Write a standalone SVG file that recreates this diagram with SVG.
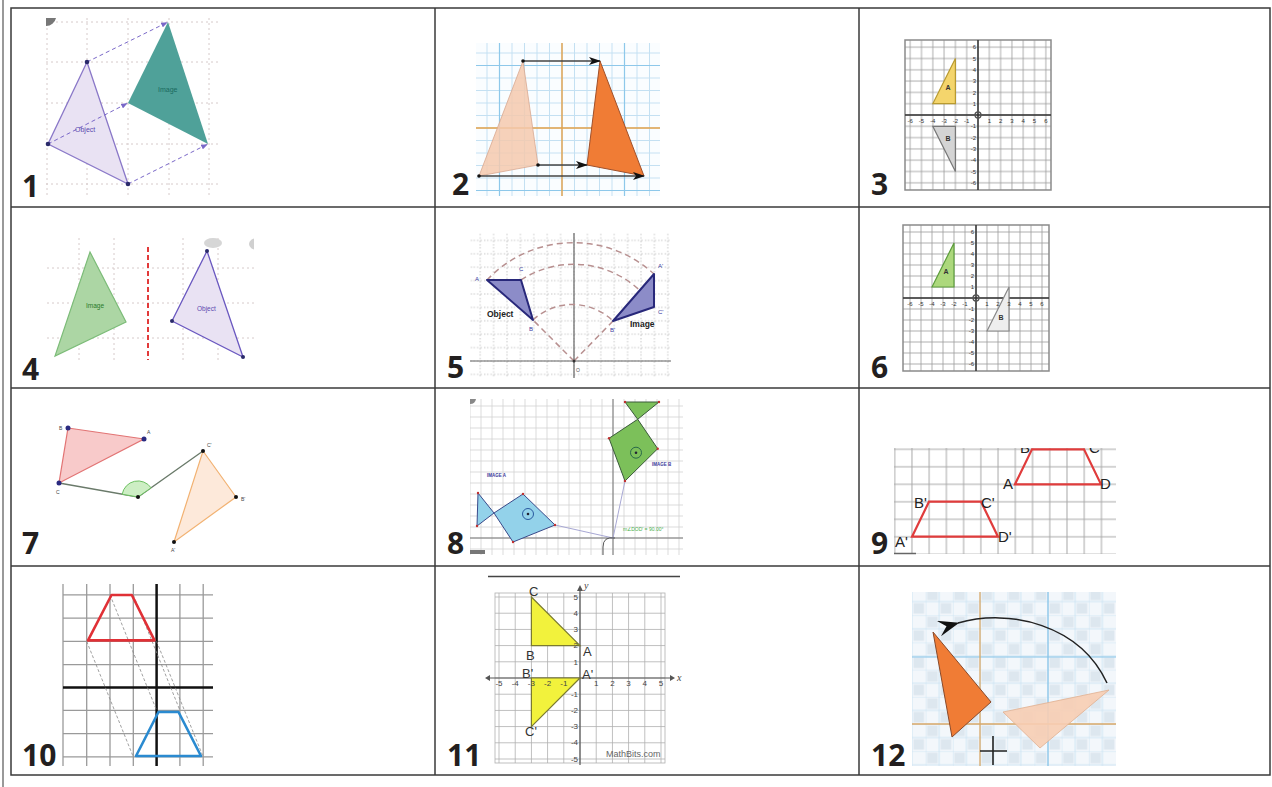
<svg xmlns="http://www.w3.org/2000/svg" width="1272" height="787" viewBox="0 0 1272 787">
<style>
.num{font-family:"Open Sans","Liberation Sans",sans-serif;font-weight:700;font-size:30px;fill:#231f20}
.tbl{fill:none;stroke:#3a3a3a;stroke-width:1.5}
.dg{stroke:#d6caca;stroke-width:1;stroke-dasharray:2 3;fill:none}
.s{font-family:"Liberation Sans",Arial,sans-serif}
.tk{font-family:"Liberation Sans",Arial,sans-serif;font-size:6px;fill:#333}
.tk11{font-family:"Liberation Sans",Arial,sans-serif;font-size:8px;fill:#444}
.lb{font-family:"Liberation Sans",Arial,sans-serif;font-size:13px;fill:#333}
.lb9{font-family:"Liberation Sans",Arial,sans-serif;font-size:15px;fill:#222}
.tiny{font-family:"Liberation Sans",Arial,sans-serif;font-size:5px;fill:#444}
</style>
<defs>
<marker id="ah" viewBox="0 0 12 8" refX="11" refY="4" markerWidth="12" markerHeight="8" markerUnits="userSpaceOnUse" orient="auto"><path d="M0,0 L12,4 L0,8 L3,4 Z" fill="#111"/></marker>
<marker id="ahp" viewBox="0 0 8 6" refX="7" refY="3" markerWidth="7" markerHeight="5" markerUnits="userSpaceOnUse" orient="auto"><path d="M0,0 L8,3 L0,6 Z" fill="#7a68c8"/></marker>
<marker id="ah12" viewBox="0 0 16 12" refX="1" refY="6" markerWidth="22" markerHeight="16" markerUnits="userSpaceOnUse" orient="auto"><path d="M0,6 L16,0 L10,6 L16,12 Z" fill="#111"/></marker>
<pattern id="g2" patternUnits="userSpaceOnUse" x="555.75" y="121.75" width="12.5" height="12.5"><path d="M6.25,0V12.5M0,6.25H12.5" stroke="#c4e0f2" stroke-width="1" fill="none"/></pattern>
<pattern id="g3" patternUnits="userSpaceOnUse" x="972.35" y="109.35" width="11.3" height="11.3"><path d="M5.65,0V11.3M0,5.65H11.3" stroke="#9a9a9a" stroke-width="0.8" fill="none"/></pattern>
<pattern id="g6" patternUnits="userSpaceOnUse" x="970.5" y="292.5" width="11" height="11"><path d="M5.5,0V11M0,5.5H11" stroke="#9a9a9a" stroke-width="0.8" fill="none"/></pattern>
<pattern id="g5" patternUnits="userSpaceOnUse" x="567.3" y="354.3" width="13.4" height="13.4"><path d="M6.7,0V13.4M0,6.7H13.4" stroke="#c8c8c8" stroke-width="1" stroke-dasharray="1.5 2" fill="none"/></pattern>
<pattern id="g8" patternUnits="userSpaceOnUse" x="607.5" y="532.5" width="11" height="11"><path d="M5.5,0V11M0,5.5H11" stroke="#d0d0d0" stroke-width="0.8" fill="none"/></pattern>
<pattern id="g9" patternUnits="userSpaceOnUse" x="886.09" y="440.55" width="17.23" height="17.5"><path d="M8.615,0V17.5M0,8.75H17.23" stroke="#a8a8a8" stroke-width="1" fill="none"/></pattern>
<pattern id="g11" patternUnits="userSpaceOnUse" x="571.9" y="669.9" width="16.2" height="16.2"><path d="M8.1,0V16.2M0,8.1H16.2" stroke="#b0b0b0" stroke-width="0.8" fill="none"/></pattern>
<pattern id="g12" patternUnits="userSpaceOnUse" x="980" y="724" width="27.2" height="27.2"><rect x="1.5" y="1.5" width="10.6" height="10.6" fill="#dde7ef"/><rect x="15.1" y="15.1" width="10.6" height="10.6" fill="#dde7ef"/><path d="M0,0V27.2M13.6,0V27.2M0,0H27.2M0,13.6H27.2" stroke="#cfe5f3" stroke-width="1" fill="none"/></pattern>
<clipPath id="c4"><rect x="47" y="238" width="207" height="122"/></clipPath>
<clipPath id="c9"><rect x="894" y="448" width="222" height="106"/></clipPath>
<clipPath id="c12"><rect x="912" y="592" width="204" height="174"/></clipPath>
<clipPath id="c2"><rect x="476" y="43" width="184" height="153"/></clipPath>
<clipPath id="c8"><rect x="470" y="399" width="213" height="156"/></clipPath>
</defs>
<rect width="1272" height="787" fill="#fff"/>

<!-- table -->
<g id="table">
<line x1="3" y1="0" x2="3" y2="787" stroke="#555" stroke-width="1.2"/>
<rect class="tbl" x="11" y="8" width="1259" height="767"/>
<line class="tbl" x1="435" y1="8" x2="435" y2="775"/>
<line class="tbl" x1="859" y1="8" x2="859" y2="775"/>
<line class="tbl" x1="11" y1="207" x2="1270" y2="207"/>
<line class="tbl" x1="11" y1="388" x2="1270" y2="388" stroke="#555" stroke-width="2"/>
<line class="tbl" x1="11" y1="566" x2="1270" y2="566"/>
</g>

<!-- cell 1 -->
<g id="cell1">
<g class="dg"><path d="M47,18V197M87,18V197M128,18V197M169,18V197M209,18V197M46,22H220M46,62H220M46,103H220M46,144H220M46,184H220"/></g>
<path d="M46,18 h10 a10,10 0 0 1 -10,8 z" fill="#777"/>
<polygon points="87,62 48,144 128,184" fill="#e9e2f3" stroke="#8a78c8" stroke-width="1.3"/>
<polygon points="168,22 128,103 208,144" fill="#4fa199"/>
<g stroke="#7a68c8" stroke-width="1" stroke-dasharray="4 3" marker-end="url(#ahp)">
<line x1="87" y1="62" x2="167" y2="22.5"/>
<line x1="48" y1="144" x2="127" y2="103.5"/>
<line x1="128" y1="184" x2="207" y2="144.5"/>
</g>
<g fill="#2a2a6a"><circle cx="87" cy="62" r="2.3"/><circle cx="48" cy="144" r="2.3"/><circle cx="128" cy="184" r="2.3"/></g>
<text class="s" x="75" y="132" font-size="7" fill="#5a4ab0">Object</text>
<text class="s" x="158" y="92" font-size="7" fill="#1a6a60">Image</text>
<text class="num" x="22" y="197">1</text>
</g>

<!-- cell 2 -->
<g id="cell2">
<rect x="476" y="43" width="184" height="153" fill="#fafdff"/>
<rect x="476" y="43" width="184" height="153" fill="url(#g2)"/>
<g clip-path="url(#c2)" fill="none">
<path d="M499.5,43V196M624.5,43V196M476,65.5H660M476,190.5H660" stroke="#8ec8ea" stroke-width="1.2"/>
<path d="M562,43V196M476,128H660" stroke="#e2a24a" stroke-width="1.4"/>
</g>
<polygon points="523,61 538,165 479,176" fill="#f5c9ae" fill-opacity="0.85" stroke="#d8a890" stroke-width="0.8"/>
<polygon points="600,61 587,165 644,176" fill="#f07c35" stroke="#a0502a" stroke-width="1"/>
<g stroke="#444" stroke-width="1.4" marker-end="url(#ah)">
<line x1="523" y1="61" x2="600" y2="61"/>
<line x1="538" y1="165" x2="587" y2="165"/>
<line x1="479" y1="176" x2="644" y2="176"/>
</g>
<g fill="#111"><circle cx="523" cy="61" r="1.8"/><circle cx="538" cy="165" r="1.8"/><circle cx="479" cy="176" r="1.8"/></g>
<text class="num" x="452" y="195">2</text>
</g>

<!-- cell 3 -->
<g id="cell3">
<rect x="905" y="40" width="146" height="150" fill="#fff"/>
<rect x="905" y="40" width="146" height="150" fill="url(#g3)" stroke="#8a8a8a" stroke-width="1.5"/>
<path d="M905,115H1051M978,40V190" stroke="#333" stroke-width="1.5"/>
<circle cx="978" cy="115" r="3" fill="none" stroke="#555" stroke-width="1.3"/>
<polygon points="932.8,103.7 955.4,58.5 955.4,103.7" fill="#f4d56c" stroke="#b89a30" stroke-width="1.2"/>
<polygon points="932.8,126.3 955.4,126.3 955.4,171.5" fill="#d4d4d4" stroke="#777" stroke-width="1.2"/>
<text class="s" x="948" y="90" font-size="7" font-weight="700" fill="#333" text-anchor="middle">A</text>
<text class="s" x="948" y="141" font-size="7" font-weight="700" fill="#333" text-anchor="middle">B</text>
<g class="tk" text-anchor="middle">
<text x="910.2" y="123">-6</text><text x="921.5" y="123">-5</text><text x="932.8" y="123">-4</text><text x="944.1" y="123">-3</text><text x="955.4" y="123">-2</text><text x="966.7" y="123">-1</text>
<text x="989.3" y="123">1</text><text x="1000.6" y="123">2</text><text x="1011.9" y="123">3</text><text x="1023.2" y="123">4</text><text x="1034.5" y="123">5</text><text x="1045.8" y="123">6</text>
</g>
<g class="tk" text-anchor="end">
<text x="976" y="49.3">6</text><text x="976" y="60.6">5</text><text x="976" y="71.9">4</text><text x="976" y="83.2">3</text><text x="976" y="94.5">2</text><text x="976" y="105.8">1</text>
<text x="976" y="128.4">-1</text><text x="976" y="139.7">-2</text><text x="976" y="151">-3</text><text x="976" y="162.3">-4</text><text x="976" y="173.6">-5</text><text x="976" y="184.9">-6</text>
</g>
<text class="num" x="871" y="195">3</text>
</g>

<!-- cell 4 -->
<g id="cell4">
<g class="dg"><path d="M79,238V360M114,238V360M183,238V360M218,238V360M47,268H254M47,303H254M47,338H254"/></g>
<g clip-path="url(#c4)">
<ellipse cx="213" cy="243" rx="9" ry="5" fill="#d6d6d6"/>
<ellipse cx="257" cy="244" rx="8" ry="6" fill="#d0d0d0"/>
</g>
<line x1="148" y1="247" x2="148" y2="360" stroke="#e23a3a" stroke-width="2" stroke-dasharray="5 3"/>
<polygon points="90,252 126,322 55,356" fill="#acd6a4" stroke="#7cbc78" stroke-width="1.2"/>
<polygon points="207,251 172,321 243,357" fill="#e9e2f3" stroke="#6a58c0" stroke-width="1.3"/>
<g fill="#2a2a6a"><circle cx="207" cy="251" r="2"/><circle cx="172" cy="321" r="2"/><circle cx="243" cy="357" r="2"/></g>
<text class="s" x="86" y="308" font-size="6.5" fill="#2a7a2a">Image</text>
<text class="s" x="197" y="311" font-size="6.5" fill="#5a4ab0">Object</text>
<text class="num" x="22" y="380">4</text>
</g>

<!-- cell 5 -->
<g id="cell5">
<rect x="470" y="233" width="201" height="145" fill="url(#g5)"/>
<path d="M470,361H671M574,233V378" stroke="#666" stroke-width="1.2"/>
<g fill="none" stroke="#b89090" stroke-width="1.5" stroke-dasharray="6 4">
<path d="M487,280 A119,119 0 0 1 654,274"/>
<path d="M521,280 A96.7,96.7 0 0 1 654,307"/>
<path d="M533,320 A58,58 0 0 1 613,321"/>
<path d="M574,361 L533,320 M574,361 L613,321"/>
</g>
<polygon points="487,280 521,280 533,320" fill="#8c8cc8" stroke="#28287a" stroke-width="2" stroke-linejoin="round"/>
<polygon points="654,274 654,307 613,321" fill="#8c8cc8" stroke="#28287a" stroke-width="2" stroke-linejoin="round"/>
<g class="s" font-size="6" fill="#3a3aa0">
<text x="475" y="281">A</text><text x="519" y="271">C</text><text x="529" y="331">B</text>
<text x="658" y="268">A'</text><text x="658" y="314">C'</text><text x="610" y="332">B'</text>
</g>
<text class="s" x="487" y="317" font-size="8.5" font-weight="700" fill="#222">Object</text>
<text class="s" x="630" y="327" font-size="8.5" font-weight="700" fill="#222">Image</text>
<text class="s" x="576" y="372" font-size="5" fill="#555">O</text>
<circle cx="574" cy="361" r="1.5" fill="#333"/>
<text class="num" x="447" y="378">5</text>
</g>

<!-- cell 6 -->
<g id="cell6">
<rect x="903" y="225" width="146" height="146" fill="#fff"/>
<rect x="903" y="225" width="146" height="146" fill="url(#g6)" stroke="#8a8a8a" stroke-width="1.5"/>
<path d="M903,298H1049M976,225V371" stroke="#333" stroke-width="1.5"/>
<circle cx="976" cy="298" r="3" fill="none" stroke="#555" stroke-width="1.3"/>
<polygon points="932,287 954,243 954,287" fill="#acd87c" stroke="#5c9c3c" stroke-width="1.2"/>
<polygon points="987,331 1009,287 1009,331" fill="#eeeeee" stroke="#888" stroke-width="1.2"/>
<text class="s" x="946" y="274" font-size="7" font-weight="700" fill="#333" text-anchor="middle">A</text>
<text class="s" x="1001" y="320" font-size="7" font-weight="700" fill="#333" text-anchor="middle">B</text>
<g class="tk" text-anchor="middle">
<text x="910" y="306">-6</text><text x="921" y="306">-5</text><text x="932" y="306">-4</text><text x="943" y="306">-3</text><text x="954" y="306">-2</text><text x="965" y="306">-1</text>
<text x="987" y="306">1</text><text x="998" y="306">2</text><text x="1009" y="306">3</text><text x="1020" y="306">4</text><text x="1031" y="306">5</text><text x="1042" y="306">6</text>
</g>
<g class="tk" text-anchor="end">
<text x="974" y="234">6</text><text x="974" y="245">5</text><text x="974" y="256">4</text><text x="974" y="267">3</text><text x="974" y="278">2</text><text x="974" y="289">1</text>
<text x="974" y="311">-1</text><text x="974" y="322">-2</text><text x="974" y="333">-3</text><text x="974" y="344">-4</text><text x="974" y="355">-5</text><text x="974" y="366">-6</text>
</g>
<text class="num" x="871" y="378">6</text>
</g>

<!-- cell 7 -->
<g id="cell7">
<polygon points="68,428 144,439 59,483" fill="#f8caca" stroke="#e27474" stroke-width="1.2"/>
<polygon points="203,451 236,497 174,542" fill="#fde9da" stroke="#f2b272" stroke-width="1.2"/>
<path d="M59,483 L138,497 L203,451" fill="none" stroke="#6a7a6a" stroke-width="1.3"/>
<path d="M138,497 L122.2,494.2 A16,16 0 0 1 151.1,487.8 Z" fill="#cdeec4" stroke="#6cc060" stroke-width="1"/>
<g fill="#2a2a80"><circle cx="68" cy="428" r="2.5"/><circle cx="144" cy="439" r="2.5"/><circle cx="59" cy="483" r="2.5"/></g>
<g fill="#111"><circle cx="203" cy="451" r="2"/><circle cx="236" cy="497" r="2"/><circle cx="174" cy="542" r="2"/><circle cx="138" cy="497" r="2"/></g>
<g class="tiny"><text x="59" y="430">B</text><text x="147" y="434">A</text><text x="56" y="494">C</text><text x="207" y="447">C'</text><text x="241" y="501">B'</text><text x="171" y="552">A'</text></g>
<text class="num" x="22" y="554">7</text>
</g>

<!-- cell 8 -->
<g id="cell8">
<g clip-path="url(#c8)">
<rect x="470" y="399" width="213" height="156" fill="url(#g8)"/>
<path d="M470,538H683M613,399V555" stroke="#777" stroke-width="1"/>
<path d="M470,399 h6 a6,6 0 0 1 -6,5 z" fill="#888"/>
<rect x="470" y="550" width="15" height="4" fill="#777"/>
<path d="M555,525 L613,538 L625,481" fill="none" stroke="#a8a8d4" stroke-width="1"/>
<polygon points="478,493 494,513 477,526" fill="#93d2ea" stroke="#3a4a8a" stroke-width="1"/>
<polygon points="494,513 523,494 555,525 513,542" fill="#93d2ea" stroke="#3a4a8a" stroke-width="1"/>
<polygon points="637.7,419.3 625,402 659,402" fill="#7cc05a" stroke="#3a5a3a" stroke-width="1"/>
<polygon points="637.7,419.3 657.7,448.7 625,481 609,438.3" fill="#7cc05a" stroke="#3a5a3a" stroke-width="1"/>
<circle cx="528" cy="514" r="5.5" fill="none" stroke="#2a5aa0" stroke-width="1"/><circle cx="528" cy="514" r="1.3" fill="#223"/>
<circle cx="636" cy="452.7" r="5.5" fill="none" stroke="#2a6a4a" stroke-width="1"/><circle cx="636" cy="452.7" r="1.3" fill="#223"/>
<g fill="#c03030"><circle cx="478" cy="493" r="1.2"/><circle cx="477" cy="526" r="1.2"/><circle cx="523" cy="494" r="1.2"/><circle cx="555" cy="525" r="1.2"/><circle cx="513" cy="542" r="1.2"/><circle cx="625" cy="402" r="1.2"/><circle cx="659" cy="402" r="1.2"/><circle cx="657.7" cy="448.7" r="1.2"/><circle cx="625" cy="481" r="1.2"/><circle cx="609" cy="438.3" r="1.2"/></g>
<path d="M615,538 Q603,536 603,547 L603,555" fill="none" stroke="#555" stroke-width="1"/>
<text x="487" y="477" font-family="Liberation Sans,Arial,sans-serif" font-size="4.5" font-weight="700" fill="#3a3a9a">IMAGE A</text>
<text x="652" y="466" font-family="Liberation Sans,Arial,sans-serif" font-size="4.5" font-weight="700" fill="#3a3a9a">IMAGE B</text>
<text x="623" y="531" font-family="Liberation Sans,Arial,sans-serif" font-size="5" fill="#4ab04a">m∠DOD' = 90.00°</text>
</g>
<text class="num" x="447" y="554">8</text>
</g>

<!-- cell 9 -->
<g id="cell9">
<rect x="894" y="448" width="222" height="106" fill="#fff"/>
<rect x="894" y="448" width="222" height="106" fill="url(#g9)"/>
<g clip-path="url(#c9)">
<polygon points="1015,484.3 1032,449.3 1084,449.3 1101,484.3" fill="none" stroke="#e03c3c" stroke-width="2.2"/>
<polygon points="912,536.7 929,501.7 981,501.7 998,536.7" fill="none" stroke="#e03c3c" stroke-width="2.2"/>
<text class="lb9" x="1020" y="453">B</text>
<text class="lb9" x="1089" y="453">C</text>
</g>
<line x1="894" y1="553.5" x2="916" y2="553.5" stroke="#666" stroke-width="1.5"/>
<text class="lb9" x="1003" y="489">A</text>
<text class="lb9" x="1100" y="489">D</text>
<text class="lb9" x="914" y="508">B'</text>
<text class="lb9" x="981" y="508">C'</text>
<text class="lb9" x="895" y="547">A'</text>
<text class="lb9" x="998" y="542">D'</text>
<text class="num" x="871" y="554">9</text>
</g>

<!-- cell 10 -->
<g id="cell10">
<path d="M63,584V766M86.7,584V766M110,584V766M133.3,584V766M179.9,584V766M203.2,584V766M63,594.8H213M63,618.1H213M63,641.4H213M63,664.7H213M63,710.3H213M63,733.6H213M63,756.9H213" stroke="#9a9a9a" stroke-width="1.3" fill="none"/>
<path d="M156.6,584V766M63,687.4H213" stroke="#111" stroke-width="2.5"/>
<g stroke="#888" stroke-width="0.8" stroke-dasharray="3 2" fill="none">
<line x1="86.7" y1="641.4" x2="133.3" y2="756.9"/>
<line x1="110" y1="594.8" x2="156.6" y2="710.3"/>
<line x1="133.3" y1="594.8" x2="179.9" y2="710.3"/>
<line x1="156.6" y1="641.4" x2="203.2" y2="756.9"/>
</g>
<polygon points="88,640.4 111.5,595 131.8,595 154.5,640.4" fill="none" stroke="#e03036" stroke-width="2.6" stroke-linejoin="round"/>
<polygon points="136,756 158.5,712 178.5,712 201,756" fill="none" stroke="#2a8ad0" stroke-width="2.6" stroke-linejoin="round"/>
<text class="num" x="22" y="766">10</text>
</g>

<!-- cell 11 -->
<g id="cell11">
<line x1="488" y1="576.5" x2="680" y2="576.5" stroke="#444" stroke-width="1.5"/>
<rect x="495" y="593" width="170" height="170" fill="url(#g11)" stroke="#b0b0b0" stroke-width="0.8"/>
<path d="M490,678H670M580,765V590" stroke="#555" stroke-width="1.2" fill="none"/>
<path d="M670,675 L675,678 L670,681 Z M580,585 L577,591 L583,591 Z M490,675 L485,678 L490,681 Z" fill="#555"/>
<polygon points="531.4,597 531.4,645.6 580,645.6" fill="#f2f23c" stroke="#7a7a30" stroke-width="1.2"/>
<polygon points="531.4,678 580,678 531.4,726.6" fill="#f2f23c" stroke="#7a7a30" stroke-width="1.2"/>
<text x="677" y="681" font-family="Liberation Serif,serif" font-style="italic" font-size="10" fill="#444">x</text>
<text x="584" y="589" font-family="Liberation Serif,serif" font-style="italic" font-size="10" fill="#444">y</text>
<g class="tk11" text-anchor="middle">
<text x="499" y="686">-5</text><text x="515.2" y="686">-4</text><text x="531.4" y="686">-3</text><text x="547.6" y="686">-2</text><text x="563.8" y="686">-1</text>
<text x="596.2" y="686">1</text><text x="612.4" y="686">2</text><text x="628.6" y="686">3</text><text x="644.8" y="686">4</text><text x="661" y="686">5</text>
</g>
<g class="tk11" text-anchor="end">
<text x="578" y="600">5</text><text x="578" y="616">4</text><text x="578" y="632">3</text><text x="578" y="648">2</text><text x="578" y="665">1</text>
<text x="578" y="697">-1</text><text x="578" y="713">-2</text><text x="578" y="729">-3</text><text x="578" y="745">-4</text><text x="578" y="762">-5</text>
</g>
<text class="lb" x="529" y="596">C</text>
<text class="lb" x="526" y="660">B</text>
<text class="lb" x="583" y="656">A</text>
<text class="lb" x="522" y="678">B'</text>
<text class="lb" x="582" y="679">A'</text>
<text class="lb" x="525" y="736">C'</text>
<text x="606" y="757" font-family="Liberation Sans,Arial,sans-serif" font-size="9" fill="#666">MathBits.com</text>
<text class="num" x="447" y="766">11</text>
</g>

<!-- cell 12 -->
<g id="cell12">
<rect x="912" y="592" width="204" height="174" fill="#f3f7fb"/>
<rect x="912" y="592" width="204" height="174" fill="url(#g12)"/>
<g clip-path="url(#c12)">
<path d="M1048,592V766M912,657H1116" stroke="#86c4e8" stroke-width="1.2"/>
<path d="M980,592V766M912,724H1116" stroke="#d8a868" stroke-width="1.3"/>
</g>
<polygon points="1109,690 1003,712 1040,748" fill="#f7cdb3" fill-opacity="0.9" stroke="#e0b090" stroke-width="0.8"/>
<polygon points="933,632 991,702 952,737" fill="#f07c35" stroke="#8a4a2a" stroke-width="1"/>
<path d="M1107,683 C1080,625 1010,608 958,623" fill="none" stroke="#222" stroke-width="1.5" marker-end="url(#ah12)"/>
<path d="M980,751H1007M993,736V765" stroke="#222" stroke-width="1.6"/>
<text class="num" x="871" y="766">12</text>
</g>
</svg>
